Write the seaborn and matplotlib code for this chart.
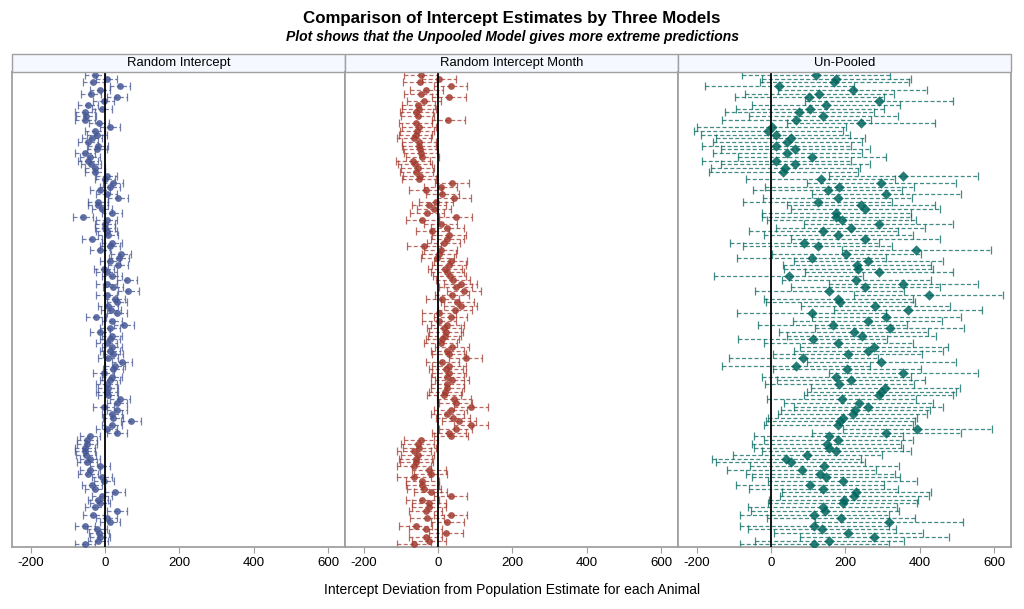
import numpy as np
import pandas as pd
import matplotlib
matplotlib.use("Agg")
import matplotlib.pyplot as plt
import seaborn as sns
from matplotlib.patches import Rectangle

models = ["Random Intercept", "Random Intercept Month", "Un-Pooled"]

ri_est = [-27, 4, -31, 40, -13, -38, 31, -4, -46, -9, -54, -50, -55, -16, 13, -27,
          -22, -35, -46, -18, -22, -55, -40, -45, -38, -27, -27, 4, 0, 22, 13, -13,
          4, 34, -18, -18, -9, 18, -58, 4, 0, 0, 4, 7, -36, 18, 13, -13,
          43, 38, 13, 34, -2, 4, 18, 58, 4, 22, 63, 4, 27, 31, 9, 15,
          31, -25, 18, 51, 13, -13, 18, 13, 4, 18, 13, 22, 9, 46, 27, 22,
          -4, 18, 13, 4, 9, 4, 9, 40, 31, -4, 31, 18, 22, 70, 18, 4,
          31, -40, -49, -49, -55, -54, -52, -40, -49, -13, -40, -45, -9, -2, -36, -27,
          27, -9, -18, -13, -27, 31, -31, 4, 13, -54, -22, -16, -13, -18, -54]

rim_est = [-46, 3, -49, 34, -31, -46, 29, -38, -53, -51, -58, -55, 28, -60, -51, -56,
           -60, -64, -51, -51, -48, -46, -42, -67, -62, -55, -58, -49, -51, 38, 7, -33,
           12, 43, -6, -24, -11, -30, 47, -42, 7, 25, -15, 29, 25, 15, -38, 7,
           3, -2, 34, 29, 19, 25, 31, 40, 61, 47, 70, 38, 12, 52, 61, 45,
           3, 34, 3, 25, 16, 21, 18, 12, 7, 38, 25, 30, 74, 12, 29, 21,
           30, 25, 38, 25, 25, 20, 16, 43, 47, 88, 34, 25, 40, 56, 88, 47,
           29, 35, -46, -55, -50, -64, -55, -60, -58, -64, -24, -20, -64, -42, -42, -38,
           -20, 34, -42, -24, -24, -33, 34, -29, 25, -60, -33, 21, -33, -24, -64]

up_est = [121, 175, 170, 22, 220, 130, 103, 290, 148, 105, 76, 140, 68, 242, 2, -7,
          13, 53, 44, 14, 65, 44, 110, 14, 65, 38, 33, 355, 134, 296, 184, 152,
          310, 179, 125, 242, 253, 175, 175, 190, 289, 214, 140, 181, 253, 89, 125, 391,
          202, 109, 262, 231, 235, 290, 47, 229, 355, 253, 157, 424, 181, 186, 280, 368,
          109, 310, 260, 166, 319, 222, 244, 112, 181, 277, 262, 206, 87, 296, 67, 204,
          355, 175, 215, 184, 307, 296, 289, 190, 236, 262, 226, 220, 193, 186, 181, 393,
          310, 155, 181, 150, 155, 175, 98, 41, 53, 143, 83, 132, 148, 193, 105, 140,
          229, 224, 195, 193, 139, 145, 116, 188, 317, 116, 137, 208, 278, 157, 116]

ci_halfwidth = [27, 45, 200]
colors = ["#445694", "#A23A2E", "#01665E"]
markers = ["o", "o", "D"]
x_ticks = [-200, 0, 200, 400, 600]

title = "Comparison of Intercept Estimates by Three Models"
subtitle = "Plot shows that the Unpooled Model gives more extreme predictions"
xlabel = "Intercept Deviation from Population Estimate for each Animal"

rows = []
for m, est, hw in zip(models, [ri_est, rim_est, up_est], ci_halfwidth):
    for i, e in enumerate(est):
        rows.append(dict(model=m, animal=i, estimate=e, lower=e - hw, upper=e + hw))
df = pd.DataFrame(rows)
n_rows = len(up_est)

sns.set_theme(style="white")
plt.rcParams['font.family'] = ['Liberation Sans', 'DejaVu Sans']
plt.rcParams['axes.unicode_minus'] = False
plt.rcParams['text.color'] = 'black'

g = sns.FacetGrid(df, col="model", col_order=models, sharex=True, sharey=True,
                  height=4, aspect=0.8, despine=False)
fig = g.figure
fig.set_size_inches(10.24, 6.09)
fig.subplots_adjust(left=12 / 1024, right=1011 / 1024, top=1 - 72 / 609,
                    bottom=1 - 547 / 609, wspace=0)
g.set_titles("")

spine_col = "#A0A0A0"
for ax, m, c, mk in zip(g.axes.flat, models, colors, markers):
    d = df[df.model == m]
    eb = ax.errorbar(d.estimate, d.animal,
                     xerr=[d.estimate - d.lower, d.upper - d.estimate],
                     fmt='none', ecolor=c, elinewidth=0.9, capsize=2.8,
                     capthick=0.9, alpha=0.75, zorder=2)
    eb[2][0].set_linestyle((0, (3.2, 1.8)))
    sns.scatterplot(data=d, x="estimate", y="animal", ax=ax, color=c, marker=mk,
                    s=24 if mk == "o" else 28, edgecolor=c, linewidth=0,
                    alpha=0.85, zorder=3)
    ax.axvline(0, color='black', lw=1.3, zorder=4)
    ax.set_xlim(-250, 645)
    ax.set_ylim(n_rows - 0.3, -0.8)
    ax.set_yticks([])
    ax.set_xticks(x_ticks)
    ax.set_xlabel("")
    ax.set_ylabel("")
    ax.tick_params(axis='x', bottom=True, length=4, width=0.8, color=spine_col,
                   labelsize=9.5, pad=3, labelcolor="black")
    for sp in ax.spines.values():
        sp.set_color(spine_col)
        sp.set_linewidth(1.3)
    h = 18 / 475
    rect = Rectangle((0, 1), 1, h, transform=ax.transAxes, clip_on=False,
                     facecolor="#F5F8FE", edgecolor=spine_col, lw=1.0, zorder=5)
    ax.add_patch(rect)
    ax.text(0.5, 1 + h / 2, m, transform=ax.transAxes, ha='center', va='center',
            fontsize=9.4, color='black', zorder=6)

fig.text(0.5, 1 - 18 / 609, title, ha='center', va='center', fontsize=12.2,
         weight='bold', color='black')
fig.text(0.5, 1 - 37 / 609, subtitle, ha='center', va='center', fontsize=10,
         weight='bold', style='italic', color='black')
fig.text(0.5, 1 - 590 / 609, xlabel, ha='center', va='center', fontsize=10,
         color='black')

fig.savefig("out.png", dpi=100)
